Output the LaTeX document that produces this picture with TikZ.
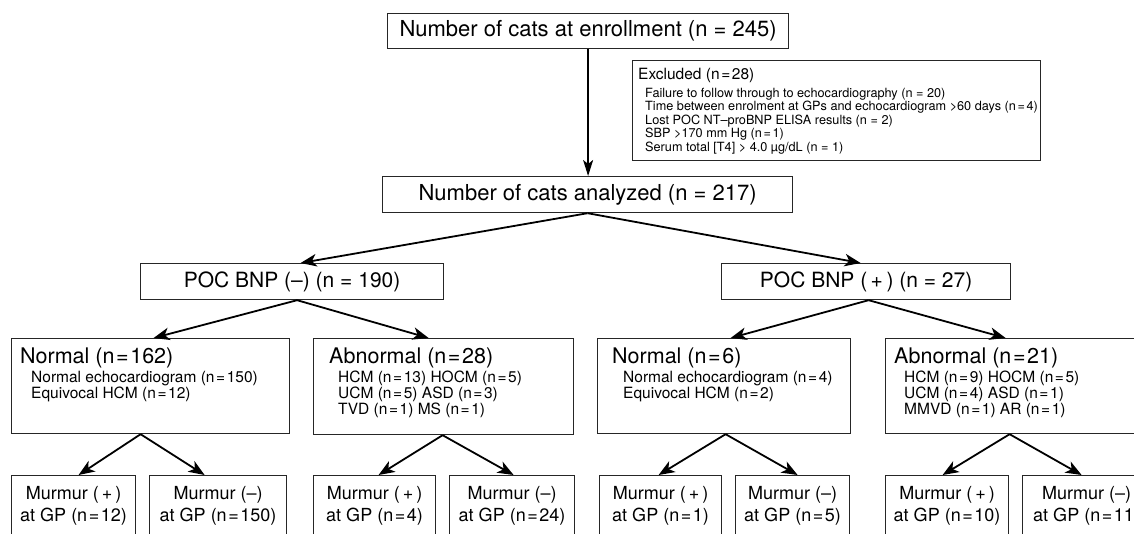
\documentclass[tikz,border=0pt]{standalone}
\usepackage{fontspec}
\setmainfont{TeX Gyre Heros}
\usetikzlibrary{arrows.meta}
\newcommand\fsTop{\fontsize{22}{26}\selectfont}
\newcommand\fsPoc{\fontsize{21}{25}\selectfont}
\newcommand\fsHead{\fontsize{21.5}{25}\selectfont}
\newcommand\fsSub{\fontsize{15.5}{16}\selectfont\lineskiplimit=-20pt\relax}
\newcommand\fsExT{\fontsize{15.5}{18}\selectfont}
\newcommand\fsExL{\fontsize{12.7}{13.5}\selectfont\lineskiplimit=-20pt\relax}
\newcommand\fsMur{\fontsize{18}{22}\selectfont}
\newcommand\nEq{\kern1.6pt=\kern1.6pt}
\begin{document}
\begin{tikzpicture}[x=1pt,y=-1pt,
  box/.style={draw=black!85, line width=1.2pt, anchor=north west, inner sep=0pt},
  murbox/.style={box, minimum height=61pt, align=center, font=\fsMur},
  head/.style={anchor=base west, inner sep=0pt, font=\fsHead},
  sub/.style={anchor=north west, inner sep=0pt, align=left, font=\fsSub},
  arr/.style={-{Stealth[length=16pt,width=12.5pt,inset=4.5pt]}, line width=1.8pt},
  varr/.style={-{Stealth[length=16pt,width=10pt,inset=4pt]}, line width=1.4pt}]
\useasboundingbox (0,0) rectangle (1134,534);
\fill[white] (0,0) rectangle (1134,534);
\clip (0,0) rectangle (1134,534);

% level 0
\node[box, minimum width=401pt, minimum height=35pt, font=\fsTop] (enr) at (387,13) {Number of cats at enrollment (n = 245)};

% excluded
\node[box, minimum width=408pt, minimum height=100pt] (exc) at (632,60) {};
\node[anchor=base west, inner sep=0pt, font=\fsExT] (exct) at (638,79.5) {Excluded (n\nEq28)};
\node[anchor=north west, inner sep=0pt, align=left, font=\fsExL] (excl) at (645,87.8)
  {Failure to follow through to echocardiography (n = 20)\\
   Time between enrolment at GPs and echocardiogram >60 days (n\nEq4)\\
   Lost POC NT–proBNP ELISA results (n = 2)\\
   SBP >170 mm Hg (n\nEq1)\\
   Serum total [T4] > 4.0 µg/dL (n = 1)};

% level 1
\node[box, minimum width=410pt, minimum height=36pt, font=\fsTop] (anl) at (382,176) {Number of cats analyzed (n = 217)};

% level 2
\node[box, minimum width=303pt, minimum height=36pt, font=\fsPoc] (pocm) at (140,263) {POC BNP (–) (n = 190)};
\node[box, minimum width=289pt, minimum height=36pt, font=\fsPoc] (pocp) at (721,263) {POC BNP (\,+\,) (n = 27)};

% level 3
\node[box, minimum width=278pt, minimum height=95pt] (nm) at (11,338) {};
\node[head] (nmt) at (20,363) {Normal (n\nEq162)};
\node[sub] (nms) at (31,371.2) {Normal echocardiogram (n\nEq150)\\Equivocal HCM (n\nEq12)};

\node[box, minimum width=260pt, minimum height=96pt] (am) at (313,338) {};
\node[head] (amt) at (329,363) {Abnormal (n\nEq28)};
\node[sub] (ams) at (338,371.2) {HCM (n\nEq13) HOCM (n\nEq5)\\UCM (n\nEq5) ASD (n\nEq3)\\TVD (n\nEq1) MS (n\nEq1)};

\node[box, minimum width=253pt, minimum height=95pt] (np) at (597,338) {};
\node[head] (npt) at (612,363) {Normal (n\nEq6)};
\node[sub] (nps) at (623,371.2) {Normal echocardiogram (n\nEq4)\\Equivocal HCM (n\nEq2)};

\node[box, minimum width=250pt, minimum height=95pt] (ap) at (885,338) {};
\node[head] (apt) at (894,363) {Abnormal (n\nEq21)};
\node[sub] (aps) at (904,371.2) {HCM (n\nEq9) HOCM (n\nEq5)\\UCM (n\nEq4) ASD (n\nEq1)\\MMVD (n\nEq1) AR (n\nEq1)};

% level 4
\node[murbox, minimum width=124pt] (m1) at (11,475) {Murmur (\,+\,)\\at GP (n\nEq12)};
\node[murbox, minimum width=137pt] (m2) at (149,475) {Murmur (–)\\at GP (n\nEq150)};
\node[murbox, minimum width=122pt] (m3) at (313,475) {Murmur (\,+\,)\\at GP (n\nEq4)};
\node[murbox, minimum width=125pt] (m4) at (449,475) {Murmur (–)\\at GP (n\nEq24)};
\node[murbox, minimum width=122pt] (m5) at (599,475) {Murmur (\,+\,)\\at GP (n\nEq1)};
\node[murbox, minimum width=114pt] (m6) at (735,475) {Murmur (–)\\at GP (n\nEq5)};
\node[murbox, minimum width=123pt] (m7) at (885,475) {Murmur (\,+\,)\\at GP (n\nEq10)};
\node[murbox, minimum width=128pt] (m8) at (1022,475) {Murmur (–)\\at GP (n\nEq11)};

% connectors
\draw[varr] (enr.south) -- (enr.south |- anl.north);
\draw[arr] (anl.south) -- ([xshift=8.5pt]pocm.north);
\draw[arr] (anl.south) -- ([xshift=-5.5pt]pocp.north);
\draw[arr] ([xshift=5pt]pocm.south) -- ([xshift=3pt]nm.north);
\draw[arr] ([xshift=5pt]pocm.south) -- ([xshift=-15pt]am.north);
\draw[arr] ([xshift=2.5pt]pocp.south) -- ([xshift=6.5pt]np.north);
\draw[arr] ([xshift=2.5pt]pocp.south) -- ([xshift=-5pt]ap.north);
\draw[arr] ([xshift=-10pt]nm.south) -- ([xshift=5pt]m1.north);
\draw[arr] ([xshift=-10pt]nm.south) -- ([xshift=-13.5pt]m2.north);
\draw[arr] ([xshift=-1pt]am.south) -- ([xshift=4pt]m3.north);
\draw[arr] ([xshift=-1pt]am.south) -- ([xshift=1.5pt]m4.north);
\draw[arr] ([xshift=1.5pt]np.south) -- ([xshift=-2pt]m5.north);
\draw[arr] ([xshift=1.5pt]np.south) -- ([xshift=5pt]m6.north);
\draw[arr] ([xshift=-1pt]ap.south) -- ([xshift=-4.5pt]m7.north);
\draw[arr] ([xshift=-1pt]ap.south) -- ([xshift=-5pt]m8.north);
\end{tikzpicture}
\end{document}
